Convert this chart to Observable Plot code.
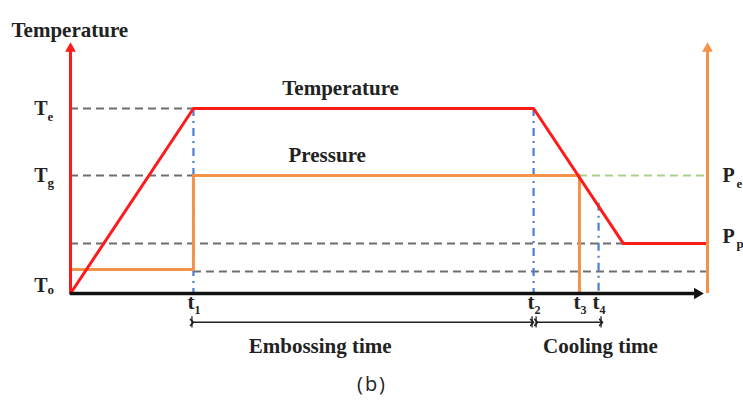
<!DOCTYPE html>
<html><head><meta charset="utf-8">
<script src="https://cdn.jsdelivr.net/npm/d3@7"></script>
<script src="https://cdn.jsdelivr.net/npm/@observablehq/plot@0.6"></script>
<style>body{margin:0;background:#fff} svg{display:block;background:#fff} .caption text{letter-spacing:2px}</style>
</head><body><div id="chart"></div>
<script>
// ---- data (time in arbitrary units 0..100, level in arbitrary units 0..100) ----
const timeNames = ["t1", "t2", "t3", "t4"];
const timeValues = [19.3, 72.7, 79.9, 82.9];

const tempTimes = [0, 19.3, 72.7, 86.8, 100];
const tempValues = [0, 73.7, 73.7, 19.9, 19.9];

const pressTimes = [0, 19.3, 19.3, 79.9, 79.9];
const pressValues = [9.6, 9.6, 47, 47, 0];

const tempLevelNames = ["Te", "Tg", "To"];
const tempLevelValues = [73.7, 47, 0];

const pressLevelNames = ["Pe", "Pp"];
const pressLevelValues = [47, 19.9];

const baseLevel = 8.8;          // lower dashed reference level
const t4MarkTop = 36;           // top of the t4 dash-dot marker
const axisTop = 100;            // axis arrow tips
const timeEnd = 100;            // right-hand (pressure) axis

const curveNames = ["Temperature", "Pressure"];
const curveLabelTimes = [42.4, 40.3];
const curveLabelLevels = [73.7, 47];

const spanNames = ["Embossing time", "Cooling time"];
const spanLabelTimes = [39.2, 83.2];
const spanLevel = -11.5;        // level of the dimension arrows

// ---- derived tables ----
const [t1, t2, t3, t4] = timeValues;
const [Te, Tg, To] = tempLevelValues;
const [Pe, Pp] = pressLevelValues;
const temp = tempTimes.map((t, i) => ({t, v: tempValues[i]}));
const press = pressTimes.map((t, i) => ({t, v: pressValues[i]}));

const grayGuides = [
  {x1: 0, x2: t1, y: Te},
  {x1: 0, x2: t1, y: Tg},
  {x1: 0, x2: tempTimes[3], y: Pp},
  {x1: t1, x2: timeEnd, y: baseLevel}
];
const greenGuides = [{x1: t3, x2: timeEnd, y: Pe}];
const blueMarks = [
  {x: t1, y1: Te, y2: 0},
  {x: t2, y1: Te, y2: 0},
  {x: t4, y1: t4MarkTop, y2: 0}
];

const serif = "'Liberation Serif', 'Times New Roman', serif";
const red = "#ff1a1a", orange = "#f4924a", blue = "#4a7fd6", gray = "#6e6e6e", green = "#a9d18e";

function subLabel(value, name, axisX, opts) {
  const {dx, dyMain, dySub} = opts;
  const d = [{x: axisX, y: value}];
  return [
    Plot.text(d, {x: "x", y: "y", text: () => name[0], textAnchor: "end", dx: dx, dy: dyMain,
      fontSize: 20, fontWeight: "bold", fontFamily: serif, fill: "#222"}),
    Plot.text(d, {x: "x", y: "y", text: () => name.slice(1), textAnchor: "start", dx: dx, dy: dySub,
      fontSize: 13, fontWeight: "bold", fontFamily: serif, fill: "#222"})
  ];
}

const marks = [];
// dashed guides
marks.push(Plot.ruleY(grayGuides, {y: "y", x1: "x1", x2: "x2", stroke: gray, strokeWidth: 2, strokeDasharray: "8,5"}));
marks.push(Plot.ruleY(greenGuides, {y: "y", x1: "x1", x2: "x2", stroke: green, strokeWidth: 2, strokeDasharray: "8,5"}));
// dash-dot time markers
marks.push(Plot.ruleX(blueMarks, {x: "x", y1: "y1", y2: "y2", stroke: blue, strokeWidth: 2.2, strokeDasharray: "8,5,2,5"}));
// pressure profile
marks.push(Plot.line(press, {x: "t", y: "v", stroke: orange, strokeWidth: 3, curve: "linear"}));
// temperature profile
marks.push(Plot.line(temp, {x: "t", y: "v", stroke: red, strokeWidth: 3, curve: "linear"}));
// axes
marks.push(Plot.ruleX([0], {y1: 0, y2: axisTop - 3, stroke: red, strokeWidth: 3}));
marks.push(Plot.dot([{x: 0, y: axisTop - 2.4}], {x: "x", y: "y", symbol: "triangle", r: 4, fill: red, stroke: "none"}));
marks.push(Plot.ruleX([timeEnd], {y1: 0, y2: axisTop - 3, stroke: orange, strokeWidth: 3}));
marks.push(Plot.dot([{x: timeEnd, y: axisTop - 2.4}], {x: "x", y: "y", symbol: "triangle", r: 4, fill: orange, stroke: "none"}));
marks.push(Plot.ruleY([0], {x1: 0, x2: timeEnd - 2, stroke: "#111", strokeWidth: 3.5}));
marks.push(Plot.dot([{x: timeEnd - 1.6, y: 0}], {x: "x", y: "y", symbol: "triangle", r: 4.2, rotate: 90, fill: "#111", stroke: "none"}));

// dimension arrows
marks.push(Plot.link([{x1: t1, x2: t2, y: spanLevel}], {x1: "x1", x2: "x2", y1: "y", y2: "y", dx: -1.5,
  stroke: "#222", strokeWidth: 1.5, markerStart: "arrow", markerEnd: "arrow"}));
marks.push(Plot.link([{x1: t2, x2: t4, y: spanLevel}], {x1: "x1", x2: "x2", y1: "y", y2: "y", dx: 2.5,
  stroke: "#222", strokeWidth: 1.5, markerStart: "arrow", markerEnd: "arrow"}));
marks.push(Plot.ruleX([t1, t2], {x: d => d, y1: spanLevel - 2.2, y2: spanLevel + 2.2, dx: -1.5, stroke: "#222", strokeWidth: 1.3}));
marks.push(Plot.ruleX([t2, t4], {x: d => d, y1: spanLevel - 2.2, y2: spanLevel + 2.2, dx: 2.5, stroke: "#222", strokeWidth: 1.3}));

// level labels (left)
marks.push(...subLabel(Te, tempLevelNames[0], 0, {dx: -23, dyMain: 0, dySub: 8}));
marks.push(...subLabel(Tg, tempLevelNames[1], 0, {dx: -23, dyMain: 0, dySub: 7}));
marks.push(...subLabel(To, tempLevelNames[2], 0, {dx: -23, dyMain: -8, dySub: -4}));
// level labels (right)
function rightLabel(value, name, dyMain, dySub) {
  const d = [{x: timeEnd, y: value}];
  return [
    Plot.text(d, {x: "x", y: "y", text: () => name[0], textAnchor: "start", dx: 15, dy: dyMain,
      fontSize: 20, fontWeight: "bold", fontFamily: serif, fill: "#222"}),
    Plot.text(d, {x: "x", y: "y", text: () => name.slice(1), textAnchor: "start", dx: 29, dy: dySub,
      fontSize: 13, fontWeight: "bold", fontFamily: serif, fill: "#222"})
  ];
}
marks.push(...rightLabel(Pe, pressLevelNames[0], 0, 8));
marks.push(...rightLabel(Pp, pressLevelNames[1], -7, 0));

// time labels
const times = timeNames.map((n, i) => ({n, t: timeValues[i]}));
marks.push(Plot.text(times, {x: "t", y: () => 0, text: d => d.n[0], textAnchor: "end", dx: 1, dy: 9,
  fontSize: 21, fontWeight: "bold", fontFamily: serif, fill: "#222"}));
marks.push(Plot.text(times, {x: "t", y: () => 0, text: d => d.n.slice(1), textAnchor: "start", dx: 1, dy: 17,
  fontSize: 12, fontWeight: "bold", fontFamily: serif, fill: "#222"}));

// curve labels
const curves = curveNames.map((n, i) => ({n, t: curveLabelTimes[i], v: curveLabelLevels[i]}));
marks.push(Plot.text(curves, {x: "t", y: "v", text: "n", dy: -20,
  fontSize: 21, fontWeight: "bold", fontFamily: serif, fill: "#222"}));
// span labels
const spans = spanNames.map((n, i) => ({n, t: spanLabelTimes[i]}));
marks.push(Plot.text(spans, {x: "t", y: () => 0, text: "n", dy: 53,
  fontSize: 21, fontWeight: "bold", fontFamily: serif, fill: "#222"}));

// title of the temperature axis
marks.push(Plot.text(["Temperature"], {frameAnchor: "top-left", text: d => d, textAnchor: "start", dx: 11, dy: 22,
  fontSize: 21, fontWeight: "bold", fontFamily: serif, fill: "#222"}));
// caption
marks.push(Plot.text(["(b)"], {frameAnchor: "bottom", text: d => d, dy: -10, className: "caption",
  fontSize: 20, fontFamily: "'Open Sans', sans-serif", fill: "#222"}));

const chart = Plot.plot({
  width: 743,
  height: 400,
  margin: 0,
  style: {background: "#fff"},
  x: {domain: [0, 100], range: [70, 707], axis: null},
  y: {domain: [0, 100], range: [293, 42], axis: null},
  marks
});
document.getElementById("chart").append(chart);
</script>
</body></html>
